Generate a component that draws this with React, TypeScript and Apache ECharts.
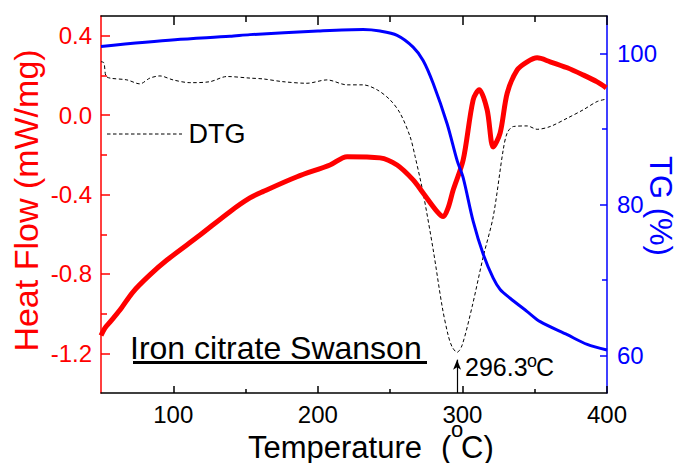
import React, { useEffect, useRef } from "react";
import * as echarts from "echarts";

// Heat flow (mW/mg) vs temperature
const hfT = [50, 52.7, 56.2, 63.1, 72.1, 83.8, 95.6, 118.5, 139.2, 153, 162, 185.6, 208.4, 220.2, 243, 254.8, 265.9, 272.8, 282.5, 286.7, 290.1, 293.6, 300.5, 307.4, 311.6, 317.1, 321.3, 326.1, 331, 337.9, 344.8, 351.7, 360.7, 372.5, 383.5, 393.2, 399.5];
const hfV = [-1.11, -1.073, -1.043, -0.982, -0.891, -0.805, -0.73, -0.604, -0.486, -0.417, -0.385, -0.31, -0.251, -0.209, -0.215, -0.251, -0.326, -0.392, -0.486, -0.511, -0.467, -0.377, -0.226, 0.077, 0.128, 0.027, -0.16, -0.089, 0.112, 0.228, 0.269, 0.289, 0.269, 0.239, 0.203, 0.168, 0.138];

// TG (%) vs temperature
const tgT = [50, 101.2, 139.2, 153, 200.1, 231.3, 243, 254.8, 265.9, 272.8, 279.8, 289.4, 296.4, 300.5, 307.4, 314.4, 321.3, 326.1, 333, 344.8, 353.8, 372.5, 386.3, 400];
const tgV = [100.97, 101.84, 102.3, 102.53, 103.0, 103.2, 103.0, 102.44, 100.88, 99.1, 96.04, 90.71, 85.78, 83.56, 77.79, 73.39, 70.23, 68.73, 67.57, 65.8, 64.46, 62.73, 61.44, 60.7];

// DTG (drawn in heat-flow units)
const dtgT = [50, 52, 53.4, 56.2, 67.9, 76.9, 83.8, 90.8, 99.8, 111.5, 125.4, 137.1, 153.1, 162, 175.9, 192.5, 206.3, 220.2, 231.3, 241, 250, 256.9, 263.8, 267.3, 272.8, 279.8, 286, 290.1, 292.9, 296.3, 299.8, 306.7, 314.4, 321.3, 328.2, 331, 335.2, 344.8, 351.7, 360.7, 372.5, 383.5, 393.2, 399.5];
const dtgV = [0.27, 0.264, 0.198, 0.187, 0.178, 0.158, 0.187, 0.198, 0.178, 0.164, 0.169, 0.195, 0.187, 0.183, 0.169, 0.161, 0.178, 0.153, 0.153, 0.128, 0.077, 0.01, -0.108, -0.209, -0.392, -0.679, -0.965, -1.108, -1.168, -1.195, -1.159, -0.965, -0.713, -0.511, -0.175, -0.089, -0.057, -0.054, -0.071, -0.057, -0.015, 0.027, 0.069, 0.081];

const dtgPeak = 296.3;

const xMajor = [100, 200, 300, 400];
const xMinor = [150, 250, 350];
const hfMajor = [-1.2, -0.8, -0.4, 0, 0.4];
const hfMinor = [-1.0, -0.6, -0.2, 0.2];
const tgMajor = [60, 80, 100];
const tgMinor = [70, 90];

const FONT = "Liberation Sans, Arial, sans-serif";
const RED = "#ff0000";
const BLUE = "#0000ff";

const zip = (a: number[], b: number[]) => a.map((v, i) => [v, b[i]]);

function txt(text: string, x: number, y: number, size: number, fill: string, extra: any = {}) {
  return {
    type: "text",
    x,
    y,
    rotation: extra.rotation || 0,
    silent: true,
    style: {
      text,
      x: 0,
      y: 0,
      fill,
      fontSize: size,
      fontFamily: FONT,
      lineHeight: extra.lineHeight || size,
      align: extra.align || "left",
      textAlign: extra.align || "left",
      verticalAlign: "middle",
      textVerticalAlign: "middle",
    },
  };
}

export default function App() {
  const ref = useRef<HTMLDivElement>(null);
  useEffect(() => {
    if (!ref.current) return;
    const chart = echarts.init(ref.current, null, { renderer: "svg" });
    const xBase = { type: "value", min: 50, max: 400, splitLine: { show: false } };
    const hfBase = { type: "value", min: -1.4, max: 0.5, splitLine: { show: false } };
    const tgBase = { type: "value", min: 55, max: 105, splitLine: { show: false } };
    const tick = (color: string, length: number, values: number[]) => ({
      show: true,
      inside: true,
      length,
      customValues: values,
      lineStyle: { color, width: 1.5 },
    });
    const option: any = {
      animation: false,
      grid: { left: 101, right: 71, top: 16, bottom: 70, containLabel: false },
      xAxis: [
        {
          ...xBase,
          position: "bottom",
          axisLine: { onZero: false, lineStyle: { color: "#000", width: 1.5 } },
          axisTick: tick("#000", 7, xMajor),
          axisLabel: {
            customValues: xMajor,
            color: "#000",
            fontSize: 24,
            lineHeight: 18,
            fontFamily: FONT,
            margin: 12,
          },
        },
        {
          ...xBase,
          position: "bottom",
          axisLine: { show: false, onZero: false },
          axisTick: tick("#000", 4, xMinor),
          axisLabel: { show: false },
        },
        {
          ...xBase,
          position: "top",
          axisLine: { onZero: false, lineStyle: { color: "#000", width: 1.5 } },
          axisTick: tick("#000", 9, xMajor),
          axisLabel: { show: false },
        },
        {
          ...xBase,
          position: "top",
          axisLine: { show: false, onZero: false },
          axisTick: tick("#000", 6, xMinor),
          axisLabel: { show: false },
        },
      ],
      yAxis: [
        {
          ...hfBase,
          position: "left",
          axisLine: { show: true, onZero: false, lineStyle: { color: RED, width: 1.5 } },
          axisTick: tick(RED, 9, hfMajor),
          axisLabel: {
            customValues: hfMajor,
            color: RED,
            fontSize: 24,
            fontFamily: FONT,
            margin: 9,
            formatter: (v: number) => v.toFixed(1),
          },
        },
        {
          ...hfBase,
          position: "left",
          axisLine: { show: false, onZero: false },
          axisTick: tick(RED, 6, hfMinor),
          axisLabel: { show: false },
        },
        {
          ...tgBase,
          position: "right",
          axisLine: { show: true, onZero: false, lineStyle: { color: BLUE, width: 1.5 } },
          axisTick: tick(BLUE, 7, tgMajor),
          axisLabel: { customValues: tgMajor, color: BLUE, fontSize: 24, fontFamily: FONT, margin: 10 },
        },
        {
          ...tgBase,
          position: "right",
          axisLine: { show: false, onZero: false },
          axisTick: tick(BLUE, 5, tgMinor),
          axisLabel: { show: false },
        },
      ],
      series: [
        {
          name: "DTG",
          type: "line",
          xAxisIndex: 0,
          yAxisIndex: 0,
          data: zip(dtgT, dtgV),
          showSymbol: false,
          smooth: 0.3,
          lineStyle: { color: "#000", width: 1, type: [3.5, 2.5] },
          markLine: {
            silent: true,
            symbol: ["none", "arrow"],
            symbolSize: [6, 10],
            label: { show: false },
            lineStyle: { color: "#000", width: 1.2, type: "solid" },
            data: [[{ coord: [dtgPeak, -1.4] }, { coord: [dtgPeak, -1.232] }]],
          },
          z: 2,
        },
        {
          name: "Heat Flow",
          type: "line",
          xAxisIndex: 0,
          yAxisIndex: 0,
          data: zip(hfT, hfV),
          showSymbol: false,
          smooth: 0.3,
          lineStyle: { color: RED, width: 5 },
          z: 3,
        },
        {
          name: "TG",
          type: "line",
          xAxisIndex: 0,
          yAxisIndex: 2,
          data: zip(tgT, tgV),
          showSymbol: false,
          smooth: 0.3,
          lineStyle: { color: BLUE, width: 3 },
          z: 4,
        },
      ],
      graphic: [
        // axis titles
        txt("Heat Flow (mW/mg)", 25.5, 200.5, 34, RED, { rotation: Math.PI / 2, align: "center" }),
        txt("TG (%)", 660.5, 206, 31, BLUE, { rotation: -Math.PI / 2, align: "center" }),
        txt("Temperature", 248, 447, 31, "#000", { lineHeight: 26 }),
        txt("(", 441, 447, 31, "#000", { lineHeight: 26 }),
        txt("o", 451, 429, 22, "#000", { lineHeight: 12 }),
        txt("C)", 461, 447, 31, "#000", { lineHeight: 26 }),
        // DTG legend
        {
          type: "line",
          silent: true,
          shape: { x1: 107, y1: 134, x2: 182, y2: 134 },
          style: { stroke: "#000", lineWidth: 1, lineDash: [3.5, 2.5] },
        },
        txt("DTG", 188.5, 134, 27, "#000"),
        // sample name
        txt("Iron citrate Swanson", 130, 348, 32, "#000"),
        {
          type: "line",
          silent: true,
          shape: { x1: 133, y1: 362.5, x2: 427, y2: 362.5 },
          style: { stroke: "#000", lineWidth: 3 },
        },
        // peak annotation
        txt("296.3", 465, 367, 25, "#000"),
        txt("o", 527, 360.6, 18, "#000", { lineHeight: 10 }),
        txt("C", 536, 367, 25, "#000"),
      ],
    };
    chart.setOption(option);
    return () => chart.dispose();
  }, []);
  return (
    <div
      ref={ref}
      style={{ position: "fixed", left: 0, top: 0, width: 678, height: 463, background: "#fff" }}
    />
  );
}
